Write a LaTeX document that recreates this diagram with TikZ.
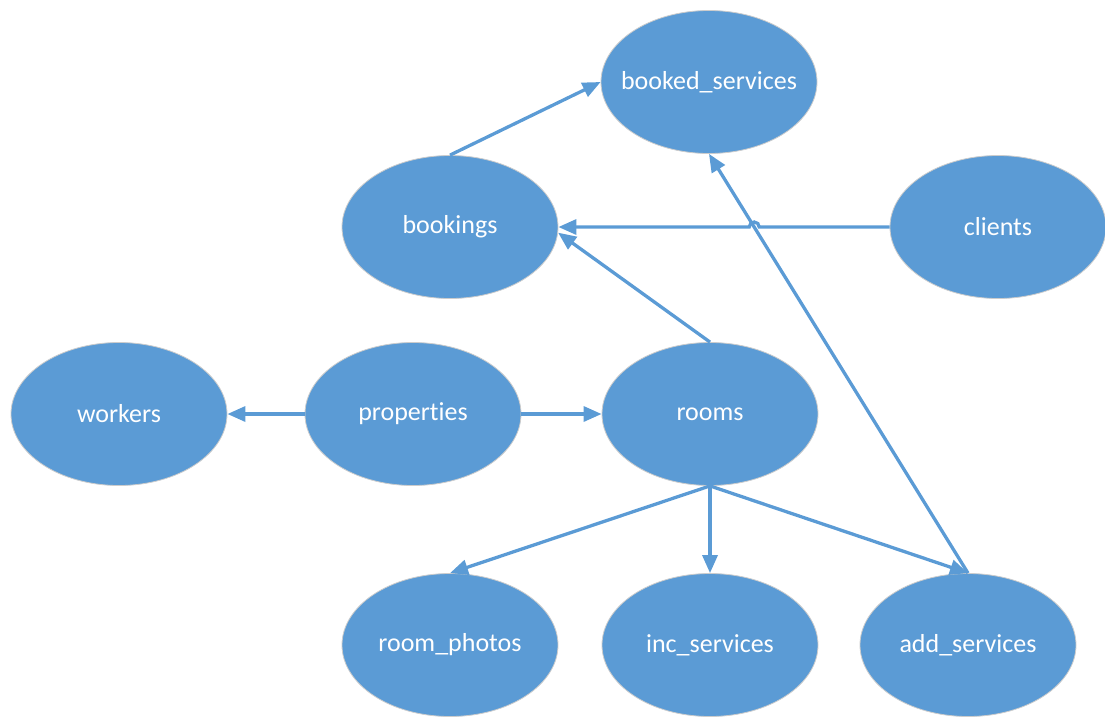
\documentclass[tikz,border=0pt]{standalone}
\usepackage{fontspec}
\setmainfont{Carlito}[Ligatures=NoCommon]
\usetikzlibrary{shapes,arrows.meta}
\usetikzlibrary{positioning}
\definecolor{tblue}{HTML}{5B9BD5}
\tikzstyle{entity} = [ellipse, draw=gray!40, line width=0.8pt, fill=tblue,
    text=white, minimum width=216pt, minimum height=143pt,
    inner xsep=-40pt, inner ysep=0pt,
    font=\fontsize{26}{31}\selectfont]
\tikzstyle{link} = [draw=tblue, line width=3.3pt]

\begin{document}
\begin{tikzpicture}[x=1pt, y=-1pt, node distance=295pt,
    >={Triangle[length=18pt,width=15pt]}]
    \useasboundingbox (0,0) rectangle (1105,718);
    % We start by placing the entities
    \node [entity] (booked) at (709,82) {booked\_services};
    \node [entity] (bookings) at (450,227) {bookings};
    \node [entity] (clients) at (998,227) {clients};
    \node [entity] (properties) at (413,414) {properties};
    \node [entity, left of=properties, node distance=294pt] (workers) {workers};
    \node [entity, right of=properties, node distance=297pt] (rooms) {rooms};
    \node [entity] (photos) at (450,645) {room\_photos};
    \node [entity] (incserv) at (710,645) {inc\_services};
    \node [entity] (addserv) at (968,645) {add\_services};

    % Crossing point for the line hop
    \coordinate (hop) at (intersection of clients.west--bookings.east and booked.south--addserv.north);

    \draw [link,->] (bookings.north) -- (booked.west);
    \draw [link,->] (clients.west) -- ([xshift=5pt]hop) arc[start angle=0, end angle=180, radius=5pt] -- (bookings.east);
    \draw [link,->] (rooms.north) -- (bookings.-3);
    \draw [link,->] (properties.west) -- (workers.east);
    \draw [link,->] (properties.east) -- (rooms.west);
    \draw [link,->] (rooms.south) -- (photos.north);
    \draw [link,->] (rooms.south) -- (incserv.north);
    \draw [link,->] (rooms.south) -- (addserv.north);
    \draw [link,->] (addserv.north) -- (booked.south);
\end{tikzpicture}
\end{document}
